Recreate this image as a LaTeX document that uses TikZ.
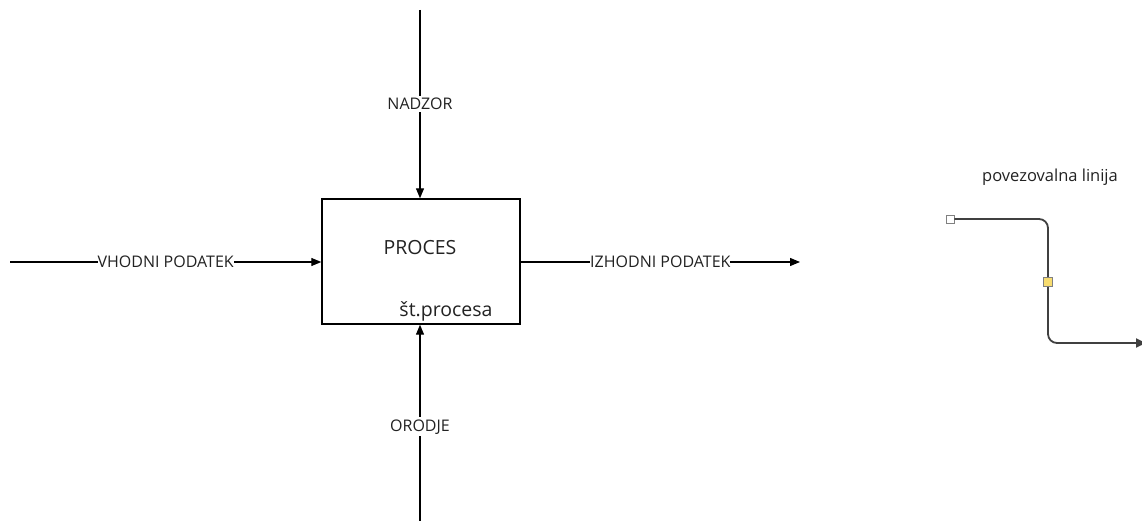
\documentclass[tikz,border=0pt]{standalone}
\usepackage{fontspec}
\setmainfont{Open Sans}
\usetikzlibrary{arrows.meta}
\definecolor{ink}{HTML}{222222}
\definecolor{wire}{HTML}{404040}
\definecolor{handleY}{HTML}{F7DC6F}
\tikzset{
  flow/.style={line width=1.2pt, draw=black, -{Triangle[length=10pt,width=8pt]}},
  lbl/.style={fill=white, inner xsep=0pt, inner ysep=2pt, text=ink, font=\fontsize{16}{18}\selectfont},
  procbox/.style={draw=black, line width=1.4pt, minimum width=198pt, minimum height=125pt, inner sep=0pt},
  wireline/.style={line width=1.8pt, draw=wire, rounded corners=9pt, -{Triangle[length=10pt,width=9pt]}},
  handle/.style={draw=gray, line width=0.8pt, minimum size=8pt, inner sep=0pt, fill=white},
}
\begin{document}
\begin{tikzpicture}[x=1pt, y=-1pt]
  \useasboundingbox (0,0) rectangle (1142,521);

  % process box
  \node[procbox] (p) at (421,261.5) {};
  \node[text=ink, font=\fontsize{19.5}{22}\selectfont] (pname) at (420,248) {PROCES};
  \node[text=ink, font=\fontsize{19.5}{22}\selectfont] (pnum) at (446,311) {št.procesa};

  % free ends of the four arrows
  \coordinate (inS)   at (10,262);
  \coordinate (outE)  at (800,262);
  \coordinate (ctlS)  at (420,10);
  \coordinate (mechS) at (420,521);

  % input
  \draw[flow] (inS) -- (inS -| p.west)
    node[lbl, midway] (inL) {VHODNI PODATEK};
  % output
  \draw[flow] (outE -| p.east) -- (outE)
    node[lbl, midway] (outL) {IZHODNI PODATEK};
  % control
  \draw[flow] (ctlS) -- (ctlS |- p.north)
    node[lbl, midway] (ctlL) {NADZOR};
  % mechanism
  \draw[flow] (mechS) -- (mechS |- p.south)
    node[lbl, pos=0.48] (mechL) {ORODJE};

  % connector sample
  \node[text=ink, font=\fontsize{16.5}{19}\selectfont] (cTitle) at (1050,177) {povezovalna linija};
  \node[handle] (h1) at (950,219) {};
  \coordinate (cEnd) at (1146,343);
  \draw[wireline] (h1.east) -- (1048,219) -- (1048,343) -- (cEnd);
  \node[handle, fill=handleY, minimum size=9pt] (h2) at (1048,282) {};
\end{tikzpicture}
\end{document}
